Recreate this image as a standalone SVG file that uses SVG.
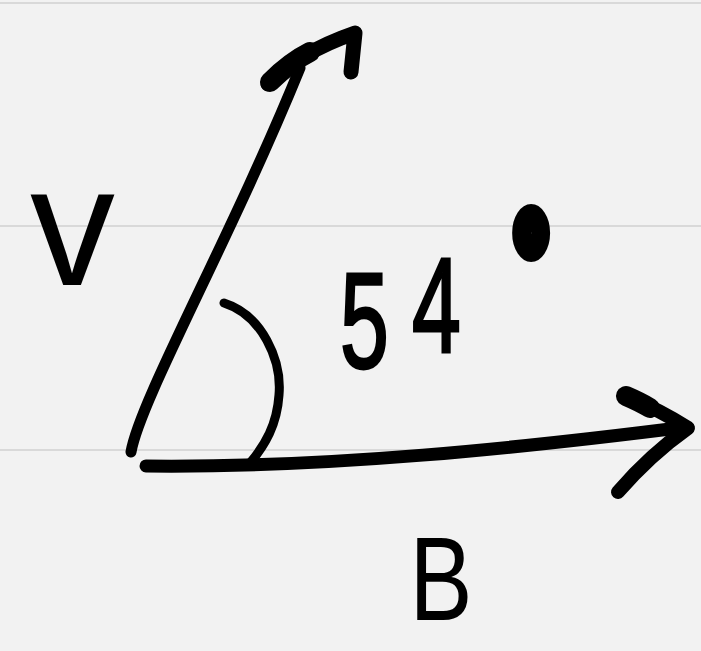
<svg xmlns="http://www.w3.org/2000/svg" width="701" height="651" viewBox="0 0 701 651">
<style>
.bg{fill:#f2f2f2}
.rule{stroke:#d9d9d9;stroke-width:2;fill:none}
.ink{stroke:#000;fill:none;stroke-linecap:round;stroke-linejoin:round}
.lbl{font-family:"Liberation Sans",Arial,sans-serif;fill:#000}
</style>
<rect class="bg" x="0" y="0" width="701" height="651"/>
<g id="ruled-lines">
<line class="rule" x1="0" y1="3" x2="701" y2="3"/>
<line class="rule" x1="0" y1="226" x2="701" y2="226"/>
<line class="rule" x1="0" y1="450" x2="701" y2="450"/>
</g>
<g id="connectors">
<g id="vector-v">
<path class="ink" stroke-width="11" d="M131,452 C140,400 230,240 300,68"/>
<path class="ink" stroke-width="15" d="M268,84 Q300,52 355,33 L351,72"/>
<path class="ink" stroke-width="20" d="M270,82 Q290,62 310,52"/>
</g>
<g id="vector-b">
<path class="ink" stroke-width="13" d="M146,466 C330,468 520,448 686,427"/>
<path class="ink" stroke-width="14" d="M626,396 Q660,410 688,428 Q650,455 618,492"/>
<path class="ink" stroke-width="20" d="M626,396 Q640,402 650,408"/>
</g>
<g id="angle-arc">
<path class="ink" stroke-width="9" d="M224,303 C262,315 282,360 279,395 C277,425 265,445 250,463"/>
</g>
</g>
<g id="label-v">
<text class="lbl" x="30" y="285" font-size="170">v</text>
</g>
<g id="label-angle">
<text class="lbl" transform="scale(0.65,1)" font-size="135" stroke="#000" stroke-width="3"><tspan x="523" y="368">5</tspan><tspan x="634" y="352">4</tspan><tspan x="791" y="306" font-size="130" stroke-width="22">°</tspan></text>
</g>
<g id="label-b">
<text class="lbl" transform="scale(0.8,1)" x="512" y="620" font-size="118">B</text>
</g>
</svg>
